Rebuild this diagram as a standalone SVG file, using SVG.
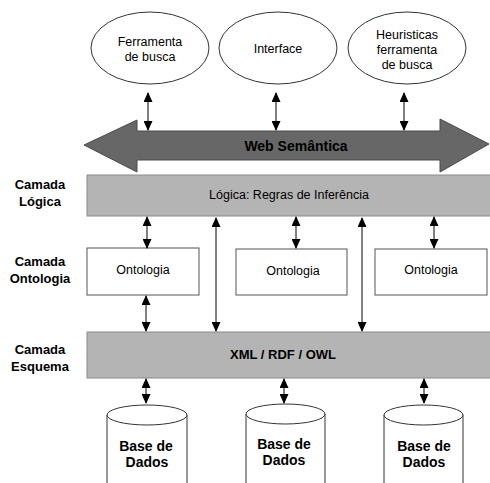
<svg xmlns="http://www.w3.org/2000/svg" width="490" height="483" viewBox="0 0 490 483">
<style>
text{font-family:"Liberation Sans",Arial,sans-serif;fill:#000;text-anchor:middle}
.n{font-size:12.5px}
.b{font-size:13px;font-weight:bold}
.bb{font-size:14px;font-weight:bold}
.ell{fill:#fff;stroke:#333;stroke-width:1}
.box{fill:#fff;stroke:#555;stroke-width:1}
.bar{fill:#b4b4b4;stroke:#8a8a8a;stroke-width:1}
.cyl{fill:#fff;stroke:#333;stroke-width:1}
.c{stroke:#000;stroke-width:1;fill:none;marker-start:url(#ah);marker-end:url(#ah)}
</style>
<defs>
<marker id="ah" viewBox="0 0 10 10" refX="9" refY="5" markerWidth="10" markerHeight="9" markerUnits="userSpaceOnUse" orient="auto-start-reverse" preserveAspectRatio="none">
<path d="M0,0 L10,5 L0,10 Z" fill="#000"/>
</marker>
</defs>

<g id="n-ferramenta"><ellipse class="ell" cx="150" cy="48" rx="59" ry="36"/><text class="n" x="150" y="46">Ferramenta</text><text class="n" x="150" y="61">de busca</text></g>
<g id="n-interface"><ellipse class="ell" cx="278" cy="48" rx="59" ry="36"/><text class="n" x="278" y="53">Interface</text></g>
<g id="n-heuristicas"><ellipse class="ell" cx="407" cy="48" rx="59" ry="36"/><text class="n" x="407" y="39">Heuristicas</text><text class="n" x="407" y="54">ferramenta</text><text class="n" x="407" y="69">de busca</text></g>

<g id="n-web"><path d="M84,145 L137,120 L137,131 L440,131 L440,119 L489,144 L440,172 L440,160 L137,160 L137,172 Z" fill="#676767" stroke="#4a4a4a" stroke-width="1"/><text class="bb" x="296" y="151">Web Semântica</text></g>

<g id="l-logica"><text class="b" x="40" y="189">Camada</text><text class="b" x="40" y="206">Lógica</text></g>
<g id="l-ontologia"><text class="b" x="40" y="266">Camada</text><text class="b" x="40" y="283">Ontologia</text></g>
<g id="l-esquema"><text class="b" x="40" y="354">Camada</text><text class="b" x="40" y="371">Esquema</text></g>

<g id="n-logica"><rect class="bar" x="87" y="175" width="404" height="41"/><text class="n" x="289" y="199">Lógica: Regras de Inferência</text></g>

<g id="n-ont1"><rect class="box" x="87" y="248" width="112" height="47"/><text class="n" x="143" y="274">Ontologia</text></g>
<g id="n-ont2"><rect class="box" x="236" y="249" width="111" height="46"/><text class="n" x="293" y="275">Ontologia</text></g>
<g id="n-ont3"><rect class="box" x="375" y="249" width="112" height="46"/><text class="n" x="431" y="274">Ontologia</text></g>

<g id="n-xml"><rect class="bar" x="87" y="332" width="404" height="46"/><text class="b" x="283" y="359">XML / RDF  / OWL</text></g>

<g id="n-db1"><path class="cyl" d="M107,415 L107,484 L187,484 L187,415" /><ellipse class="cyl" cx="147" cy="415" rx="40" ry="10"/><text class="bb" x="146" y="451">Base de</text><text class="bb" x="147" y="467">Dados</text></g>
<g id="n-db2"><path class="cyl" d="M246,414 L246,484 L325,484 L325,414" /><ellipse class="cyl" cx="285.5" cy="414" rx="39.5" ry="10"/><text class="bb" x="284" y="449">Base de</text><text class="bb" x="284" y="465">Dados</text></g>
<g id="n-db3"><path class="cyl" d="M384,415 L384,484 L463,484 L463,415" /><ellipse class="cyl" cx="423.5" cy="415" rx="39.5" ry="10"/><text class="bb" x="424" y="451">Base de</text><text class="bb" x="424" y="467">Dados</text></g>

<g id="connectors">
<line class="c" x1="148" y1="93" x2="148" y2="130"/>
<line class="c" x1="276" y1="93" x2="276" y2="130"/>
<line class="c" x1="404" y1="93" x2="404" y2="130"/>
<line class="c" x1="147" y1="217" x2="147" y2="248"/>
<line class="c" x1="296" y1="217" x2="296" y2="248"/>
<line class="c" x1="434" y1="217" x2="434" y2="248"/>
<line class="c" x1="216" y1="218" x2="216" y2="331"/>
<line class="c" x1="362" y1="218" x2="362" y2="331"/>
<line class="c" x1="146" y1="296" x2="146" y2="331"/>
<line class="c" x1="146" y1="379" x2="146" y2="403"/>
<line class="c" x1="284" y1="379" x2="284" y2="403"/>
<line class="c" x1="424" y1="379" x2="424" y2="403"/>
</g>
</svg>
